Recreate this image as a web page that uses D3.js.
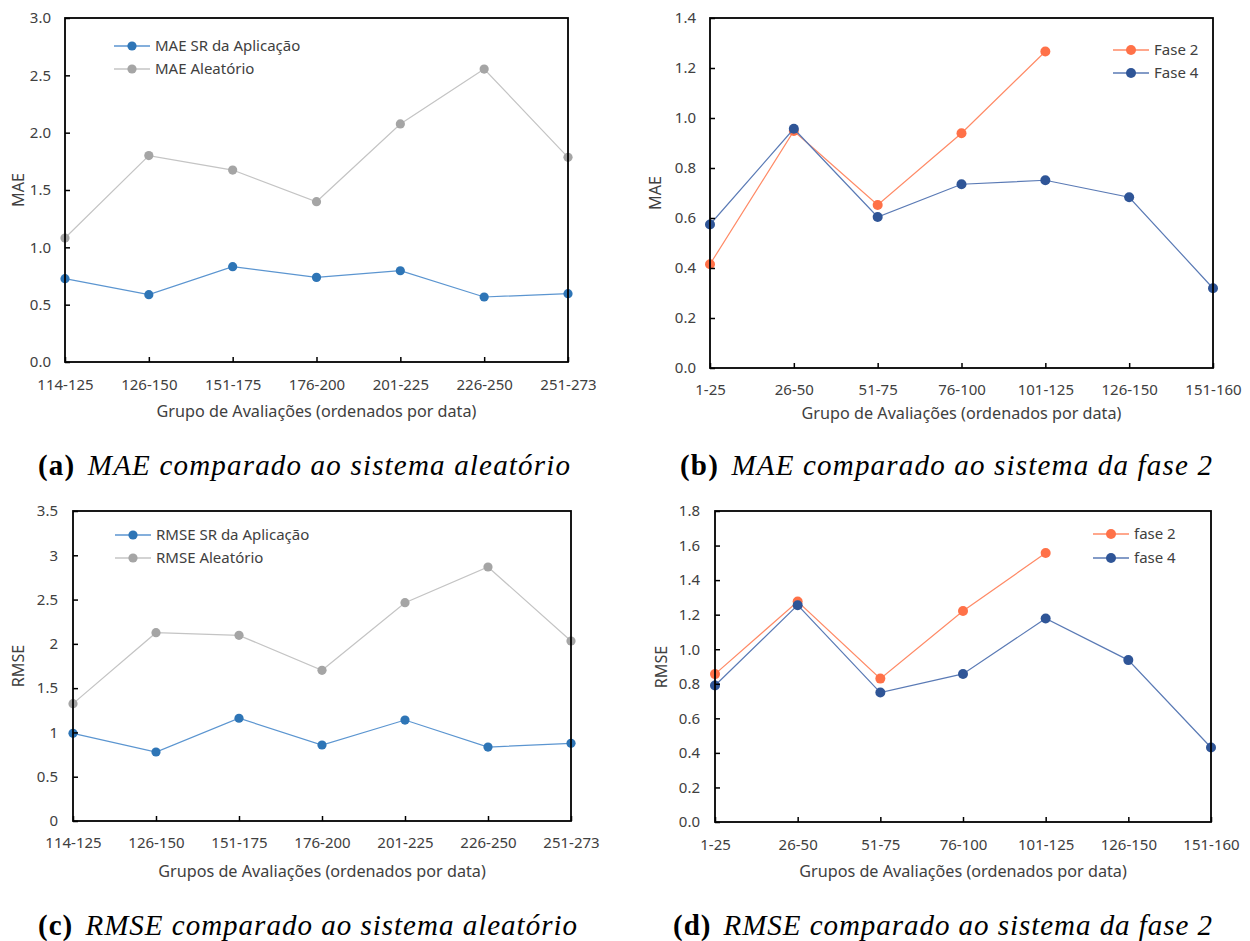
<!DOCTYPE html>
<html>
<head>
<meta charset="utf-8">
<script src="https://cdn.jsdelivr.net/npm/d3@7"></script>
<style>
  body { margin: 0; background: #fff; }
  svg { display: block; }
  .tick text { font-family: "Noto Sans", sans-serif; font-size: 15px; fill: #404040; }
  .axisTitle { font-family: "Noto Sans", sans-serif; font-size: 16.2px; fill: #404040; }
  .legendText { font-family: "Noto Sans", sans-serif; font-size: 15px; fill: #404040; }
  .caption { font-family: "Liberation Serif", serif; font-size: 29px; fill: #000; }
</style>
</head>
<body>
<svg id="fig" width="1250" height="941"></svg>
<script>
// categories
const groupsApp = ["114-125", "126-150", "151-175", "176-200", "201-225", "226-250", "251-273"];
const groupsFase = ["1-25", "26-50", "51-75", "76-100", "101-125", "126-150", "151-160"];

// (a) MAE vs random
const maeApp = [0.727, 0.587, 0.831, 0.738, 0.796, 0.567, 0.596];
const maeRandom = [1.081, 1.800, 1.674, 1.398, 2.076, 2.555, 1.785];

// (b) MAE fase 2 vs fase 4
const maeFase2 = [0.415, 0.948, 0.652, 0.939, 1.266];
const maeFase4 = [0.574, 0.957, 0.604, 0.735, 0.751, 0.683, 0.319];

// (c) RMSE vs random
const rmseApp = [0.990, 0.779, 1.160, 0.858, 1.140, 0.835, 0.877];
const rmseRandom = [1.325, 2.126, 2.096, 1.701, 2.465, 2.868, 2.032];

// (d) RMSE fase 2 vs fase 4
const rmseFase2 = [0.856, 1.276, 0.830, 1.221, 1.557];
const rmseFase4 = [0.790, 1.255, 0.749, 0.857, 1.178, 0.937, 0.431];

// y tick values
const ticksMae = [0, 0.5, 1, 1.5, 2, 2.5, 3];
const ticksMaeFase = [0, 0.2, 0.4, 0.6, 0.8, 1.0, 1.2, 1.4];
const ticksRmse = [0, 0.5, 1, 1.5, 2, 2.5, 3, 3.5];
const ticksRmseFase = [0, 0.2, 0.4, 0.6, 0.8, 1.0, 1.2, 1.4, 1.6, 1.8];

const COLORS = {
  app: { dot: "#2e75b6", line: "#5b95d0" },
  random: { dot: "#a5a5a5", line: "#c4c4c4" },
  fase2: { dot: "#ff7148", line: "#ff8a66" },
  fase4: { dot: "#2f5597", line: "#5a7ab5" }
};

const svg = d3.select("#fig");

// one line panel with inner ticks and a boxed plot area
function panel(cfg) {
  const w = cfg.right - cfg.left, h = cfg.bottom - cfg.top;
  const g = svg.append("g").attr("transform", `translate(${cfg.left},${cfg.top})`);

  const x = d3.scalePoint().domain(cfg.categories).range([0, w]);
  const y = d3.scaleLinear().domain([0, d3.max(cfg.yTicks)]).range([h, 0]);

  // lines + markers
  cfg.series.forEach(s => {
    const pts = s.values.map((v, i) => [cfg.categories[i], v]);
    g.append("path")
      .attr("d", d3.line().x(d => x(d[0])).y(d => y(d[1]))(pts))
      .attr("fill", "none")
      .attr("stroke", s.color.line)
      .attr("stroke-width", 1.2);
    g.selectAll(null).data(pts).join("circle")
      .attr("cx", d => x(d[0]))
      .attr("cy", d => y(d[1]))
      .attr("r", cfg.r)
      .attr("fill", s.color.dot);
  });

  // frame
  g.append("rect").attr("width", w).attr("height", h)
    .attr("fill", "none").attr("stroke", "#000").attr("stroke-width", 1.8);

  const yAxis = g.append("g")
    .call(d3.axisLeft(y).tickValues(cfg.yTicks).tickFormat(cfg.yFormat)
      .tickSize(-5).tickPadding(cfg.yPad));
  const xAxis = g.append("g").attr("transform", `translate(0,${h})`)
    .call(d3.axisBottom(x).tickSize(-5).tickPadding(cfg.xPad));
  [yAxis, xAxis].forEach(a => {
    a.select(".domain").remove();
    a.selectAll(".tick line").attr("stroke", "#000").attr("stroke-width", 1.5);
  });
  xAxis.selectAll(".tick text").attr("dy", "0.71em");

  // axis titles
  svg.append("text").attr("class", "axisTitle")
    .attr("text-anchor", "middle")
    .attr("transform", `translate(${cfg.yTitleX},${cfg.yTitleY}) rotate(-90)`)
    .text(cfg.yTitle);
  svg.append("text").attr("class", "axisTitle")
    .attr("text-anchor", "middle")
    .attr("x", cfg.left + w / 2).attr("y", cfg.xTitleY)
    .text(cfg.xTitle);

  // legend
  cfg.series.forEach((s, i) => {
    const ly = cfg.legend.y + i * cfg.legend.step;
    svg.append("line")
      .attr("x1", cfg.legend.x).attr("x2", cfg.legend.x + 36)
      .attr("y1", ly).attr("y2", ly)
      .attr("stroke", s.color.line).attr("stroke-width", 1.5);
    svg.append("circle").attr("cx", cfg.legend.x + 18).attr("cy", ly)
      .attr("r", cfg.r).attr("fill", s.color.dot);
    svg.append("text").attr("class", "legendText")
      .attr("x", cfg.legend.x + 41).attr("y", ly + 5)
      .text(s.name);
  });

  // caption, stretched to the width of the LaTeX original
  const cap = svg.append("text").attr("class", "caption")
    .attr("x", cfg.caption.x).attr("y", cfg.caption.y)
    .attr("textLength", cfg.caption.width).attr("lengthAdjust", "spacing");
  cap.append("tspan").attr("font-weight", "bold").text(cfg.caption.tag + " ");
  cap.append("tspan").attr("font-style", "italic").attr("dx", 4).text(cfg.caption.text);
}

const fmt1 = d3.format(".1f");
const fmtGeneral = d => String(d);

panel({
  left: 65, right: 568, top: 18, bottom: 362,
  categories: groupsApp, yTicks: ticksMae, yFormat: fmt1, yPad: 14, xPad: 17, r: 4.6,
  series: [
    { name: "MAE SR da Aplicação", values: maeApp, color: COLORS.app },
    { name: "MAE Aleatório", values: maeRandom, color: COLORS.random }
  ],
  yTitle: "MAE", yTitleX: 24, yTitleY: 190,
  xTitle: "Grupo de Avaliações (ordenados por data)", xTitleY: 417,
  legend: { x: 114, y: 46, step: 23 },
  caption: { x: 38, y: 475, width: 532, tag: "(a)", text: "MAE comparado ao sistema aleatório" }
});

panel({
  left: 710, right: 1213, top: 18, bottom: 368,
  categories: groupsFase, yTicks: ticksMaeFase, yFormat: fmt1, yPad: 14, xPad: 16, r: 5,
  series: [
    { name: "Fase 2", values: maeFase2, color: COLORS.fase2 },
    { name: "Fase 4", values: maeFase4, color: COLORS.fase4 }
  ],
  yTitle: "MAE", yTitleX: 661, yTitleY: 193,
  xTitle: "Grupo de Avaliações (ordenados por data)", xTitleY: 419,
  legend: { x: 1113, y: 50, step: 23 },
  caption: { x: 680, y: 475, width: 532, tag: "(b)", text: "MAE comparado ao sistema da fase 2" }
});

panel({
  left: 73, right: 571, top: 511, bottom: 821,
  categories: groupsApp, yTicks: ticksRmse, yFormat: fmtGeneral, yPad: 15, xPad: 16, r: 4.6,
  series: [
    { name: "RMSE SR da Aplicação", values: rmseApp, color: COLORS.app },
    { name: "RMSE Aleatório", values: rmseRandom, color: COLORS.random }
  ],
  yTitle: "RMSE", yTitleX: 24, yTitleY: 666,
  xTitle: "Grupos de Avaliações (ordenados por data)", xTitleY: 877,
  legend: { x: 115, y: 535, step: 23 },
  caption: { x: 38, y: 935, width: 539, tag: "(c)", text: "RMSE comparado ao sistema aleatório" }
});

panel({
  left: 715, right: 1211, top: 511, bottom: 822,
  categories: groupsFase, yTicks: ticksRmseFase, yFormat: fmt1, yPad: 15, xPad: 17, r: 5,
  series: [
    { name: "fase 2", values: rmseFase2, color: COLORS.fase2 },
    { name: "fase 4", values: rmseFase4, color: COLORS.fase4 }
  ],
  yTitle: "RMSE", yTitleX: 667, yTitleY: 667,
  xTitle: "Grupos de Avaliações (ordenados por data)", xTitleY: 877,
  legend: { x: 1093, y: 534, step: 24 },
  caption: { x: 673, y: 935, width: 539, tag: "(d)", text: "RMSE comparado ao sistema da fase 2" }
});
</script>
</body>
</html>
